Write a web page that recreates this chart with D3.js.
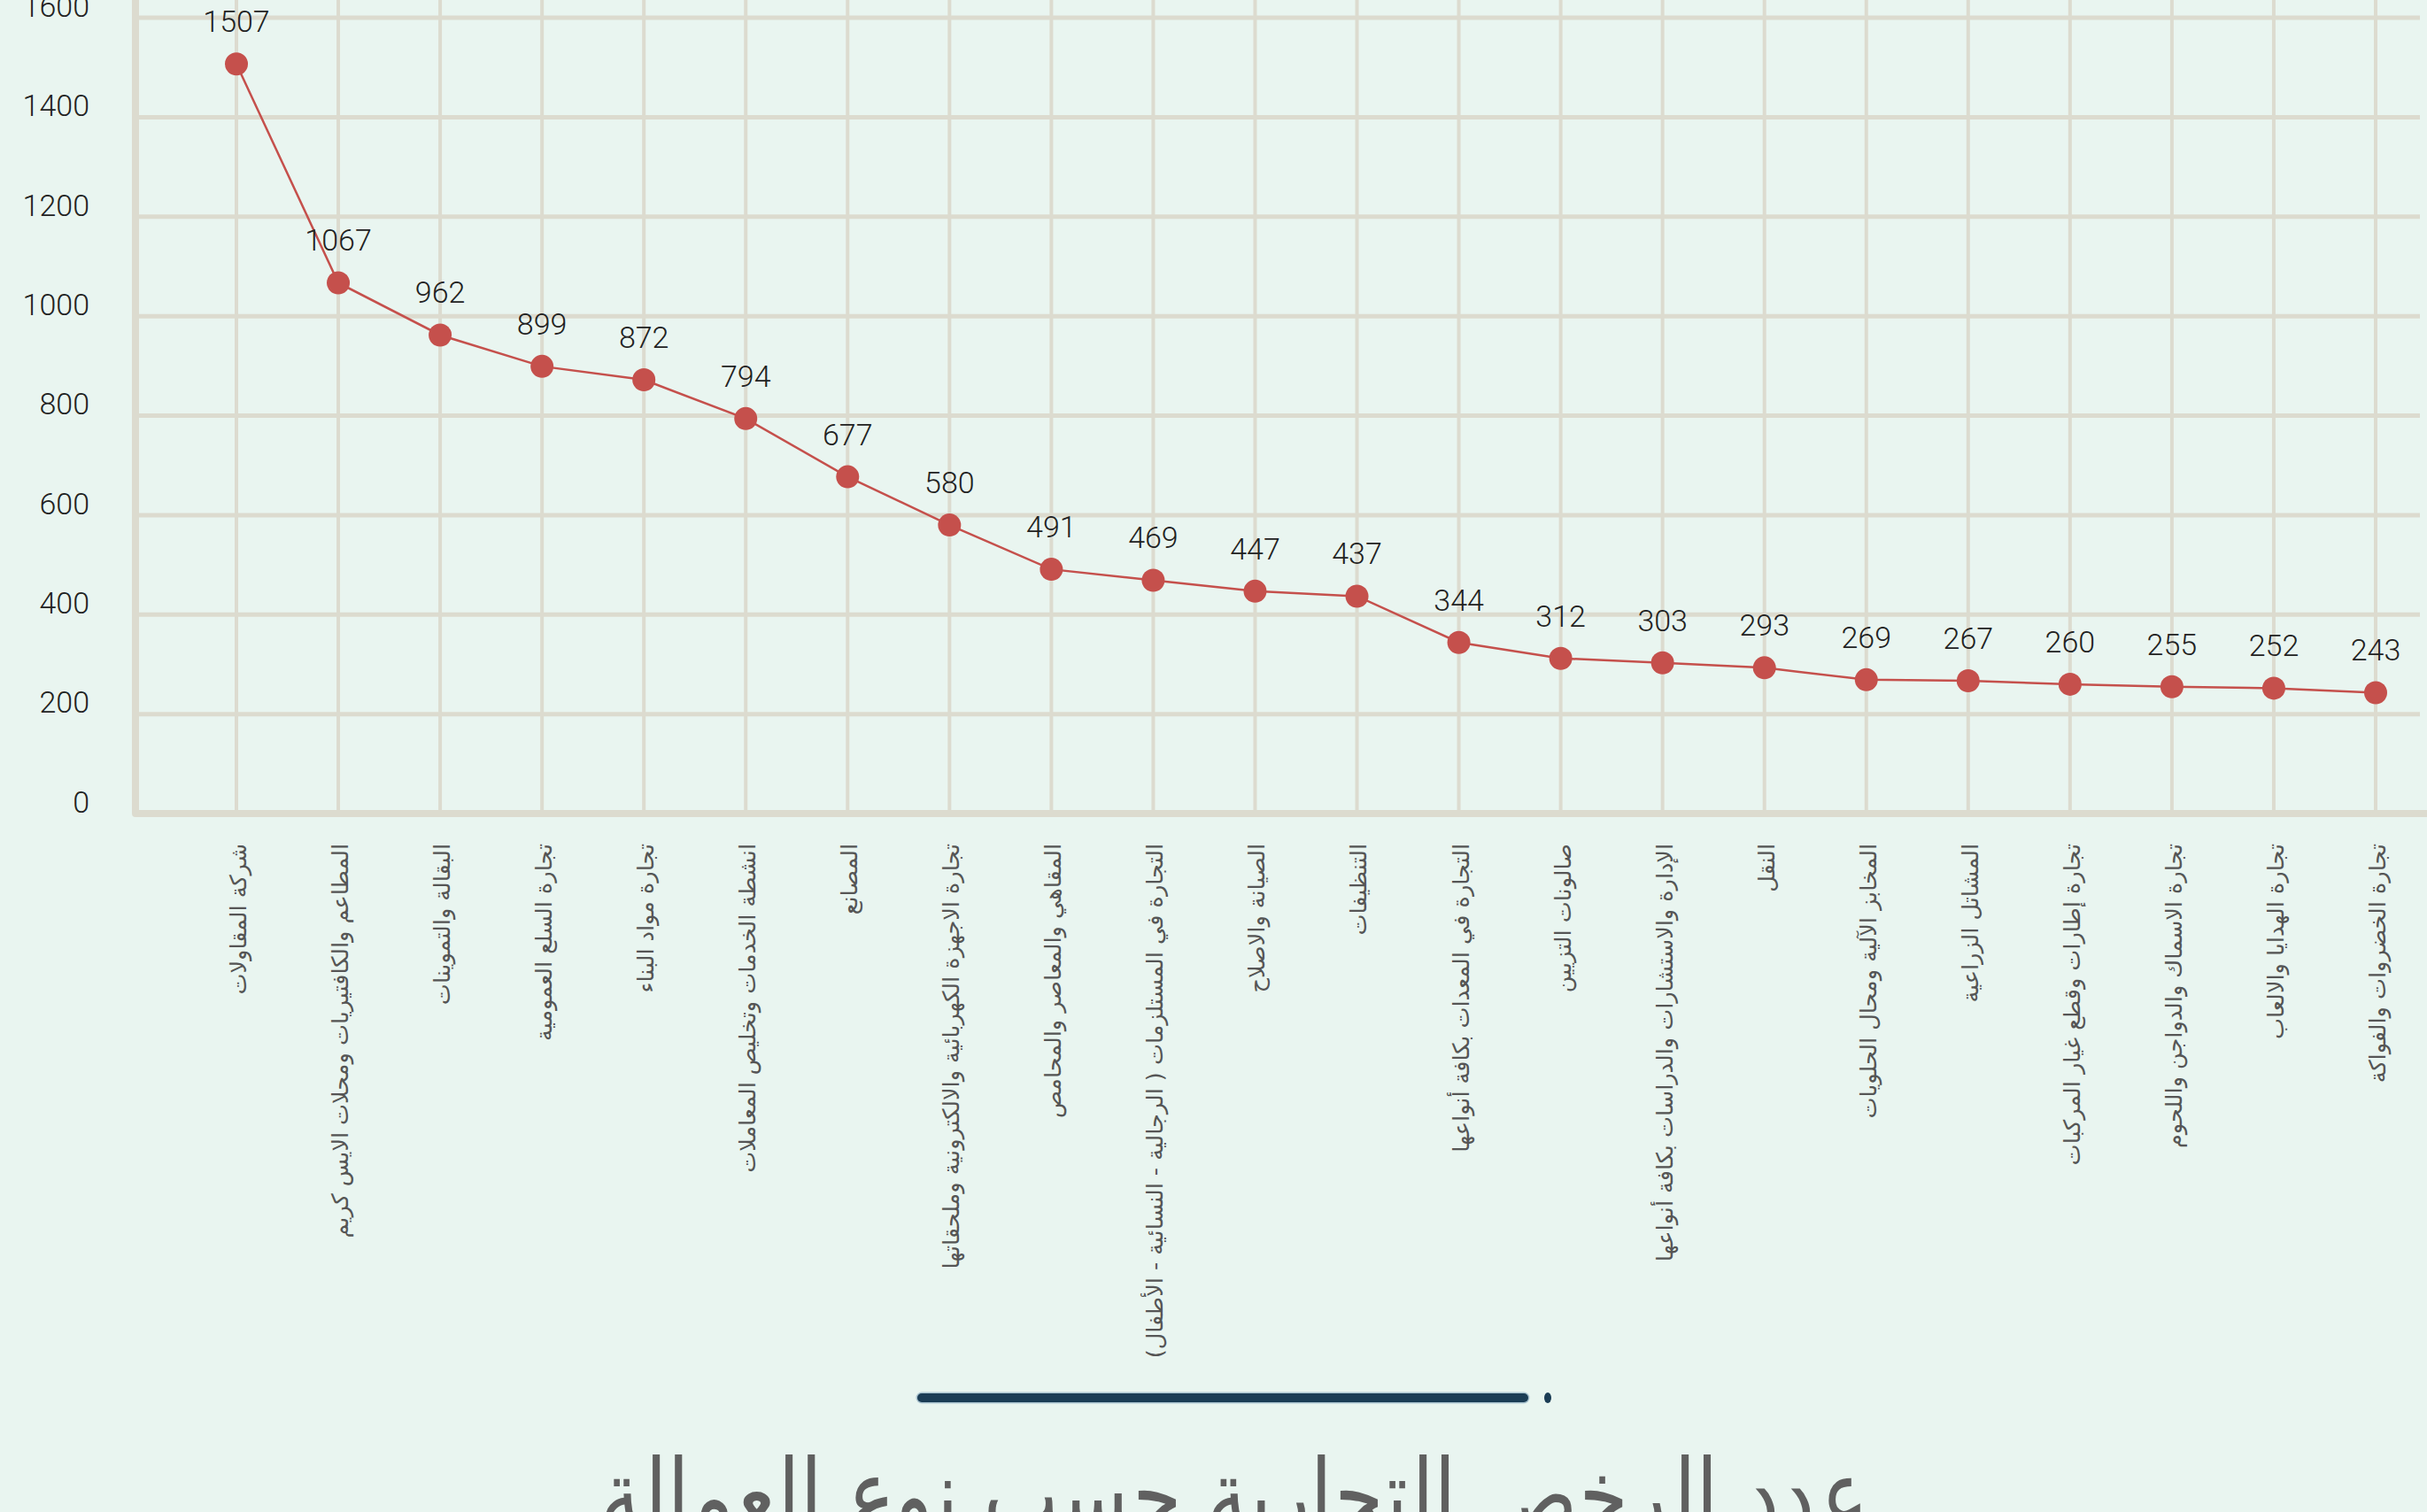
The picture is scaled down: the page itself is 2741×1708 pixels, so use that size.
<!DOCTYPE html>
<html>
<head>
<meta charset="utf-8">
<script src="https://cdn.jsdelivr.net/npm/d3@7"></script>
<style>
  html, body { margin: 0; padding: 0; background: #e9f5f0; overflow: hidden; }
  #chart { width: 2741px; height: 1708px; }
</style>
</head>
<body>
<div id="chart"></div>
<script>
  var width = 2741,
      height = 1708;

  var categories = [
    "شركة المقاولات",
    "المطاعم والكافتيريات ومحلات الايس كريم",
    "البقالة والتموينات",
    "تجارة السلع العمومية",
    "تجارة مواد البناء",
    "انشطة الخدمات وتخليص المعاملات",
    "المصانع",
    "تجارة الاجهزة الكهربائية والالكترونية وملحقاتها",
    "المقاهي والمعاصر والمحامص",
    "التجارة في المستلزمات ( الرجالية - النسائية - الأطفال)",
    "الصيانة والاصلاح",
    "التنظيفات",
    "التجارة في المعدات بكافة أنواعها",
    "صالونات التزيين",
    "الإدارة والاستشارات والدراسات بكافة أنواعها",
    "النقل",
    "المخابز الآلية ومحال الحلويات",
    "المشاتل الزراعية",
    "تجارة إطارات وقطع غيار المركبات",
    "تجارة الاسماك والدواجن واللحوم",
    "تجارة الهدايا والالعاب",
    "تجارة الخضروات والفواكة"
  ];

  var values = [1507, 1067, 962, 899, 872, 794, 677, 580, 491, 469, 447,
                437, 344, 312, 303, 293, 269, 267, 260, 255, 252, 243];

  var yTicks = [0, 200, 400, 600, 800, 1000, 1200, 1400, 1600];

  var title = "عدد الرخص التجارية حسب نوع العمالة";

  var data = categories.map(function(c, i) {
    return { name: c, value: values[i] };
  });

  var svg = d3.select("#chart")
    .append("svg")
    .attr("width", width)
    .attr("height", height);

  svg.append("rect")
    .attr("width", width)
    .attr("height", height)
    .attr("fill", "#e9f5f0");

  var axisLeft = 153,
      baseY = 919,
      gridRight = 2733;

  var x = d3.scalePoint()
    .domain(categories)
    .range([267, 2683]);

  var y = d3.scaleLinear()
    .domain([0, 1600])
    .range([baseY, 20]);

  var gridColor = "#dcdbcf";
  var numFont = "Roboto, 'DejaVu Sans Condensed', sans-serif";

  // vertical grid
  svg.append("g")
    .selectAll("line")
    .data(categories)
    .enter().append("line")
    .attr("x1", function(d) { return x(d) })
    .attr("x2", function(d) { return x(d) })
    .attr("y1", 0)
    .attr("y2", baseY)
    .attr("stroke", gridColor)
    .attr("stroke-width", 4);

  // horizontal grid
  svg.append("g")
    .selectAll("line")
    .data(yTicks.filter(function(t) { return t > 0 }))
    .enter().append("line")
    .attr("x1", axisLeft)
    .attr("x2", gridRight)
    .attr("y1", function(d) { return y(d) })
    .attr("y2", function(d) { return y(d) })
    .attr("stroke", gridColor)
    .attr("stroke-width", 5);

  // y axis labels
  var yAxis = d3.axisLeft(y)
    .tickValues(yTicks)
    .tickFormat(d3.format("d"))
    .tickSize(0)
    .tickPadding(0);

  var gy = svg.append("g")
    .attr("transform", "translate(101,0)")
    .call(yAxis);
  gy.select(".domain").remove();
  gy.selectAll("text")
    .attr("dy", "-0.05em")
    .attr("fill", "#222")
    .style("font-family", numFont)
    .style("font-weight", 300)
    .style("font-size", "34px");

  // axes lines
  svg.append("path")
    .attr("d", "M" + axisLeft + ",0 L" + axisLeft + "," + baseY + " L" + width + "," + baseY)
    .attr("fill", "none")
    .attr("stroke", gridColor)
    .attr("stroke-width", 8)
    .attr("stroke-linejoin", "round");

  // line
  var line = d3.line()
    .x(function(d) { return x(d.name) })
    .y(function(d) { return y(d.value) });

  svg.append("path")
    .datum(data)
    .attr("d", line)
    .attr("fill", "none")
    .attr("stroke", "#c5504c")
    .attr("stroke-width", 2.5);

  svg.append("g")
    .selectAll("circle")
    .data(data)
    .enter().append("circle")
    .attr("cx", function(d) { return x(d.name) })
    .attr("cy", function(d) { return y(d.value) })
    .attr("r", 13)
    .attr("fill", "#c5504c");

  // value labels
  svg.append("g")
    .selectAll("text")
    .data(data)
    .enter().append("text")
    .attr("x", function(d) { return x(d.name) })
    .attr("y", function(d) { return y(d.value) - 36 })
    .attr("text-anchor", "middle")
    .attr("fill", "#222")
    .style("font-family", numFont)
    .style("font-weight", 300)
    .style("font-size", "34px")
    .text(function(d) { return d.value });

  // category labels (rotated)
  svg.append("g")
    .selectAll("text")
    .data(categories)
    .enter().append("text")
    .attr("transform", function(d) {
      return "translate(" + (x(d) + 2) + ",953) rotate(-90)";
    })
    .attr("text-anchor", "end")
    .attr("dy", "0.35em")
    .attr("fill", "#555")
    .style("font-family", "'DejaVu Sans', sans-serif")
    .style("font-size", "25.5px")
    .text(function(d) { return d });

  // decorative bar
  svg.append("line")
    .attr("x1", 1041)
    .attr("x2", 1721)
    .attr("y1", 1579)
    .attr("y2", 1579)
    .attr("stroke", "#a9c3cf")
    .attr("stroke-width", 13)
    .attr("stroke-linecap", "round");
  svg.append("line")
    .attr("x1", 1041)
    .attr("x2", 1721)
    .attr("y1", 1579)
    .attr("y2", 1579)
    .attr("stroke", "#1b3d55")
    .attr("stroke-width", 10)
    .attr("stroke-linecap", "round");
  svg.append("ellipse")
    .attr("cx", 1748)
    .attr("cy", 1579)
    .attr("rx", 4)
    .attr("ry", 6)
    .attr("fill", "#1b3d55");

  // title (cut by the bottom edge, as in the source)
  var t = svg.append("text")
    .attr("x", 0)
    .attr("y", 0)
    .attr("text-anchor", "middle")
    .attr("fill", "#606060")
    .style("font-family", "'DejaVu Sans', sans-serif")
    .style("font-size", "112px")
    .text(title);
  var bb = t.node().getBBox();
  var k = 1432 / bb.width;
  t.attr("transform", "translate(1394,1728) scale(" + k + ",1)");
</script>
</body>
</html>
